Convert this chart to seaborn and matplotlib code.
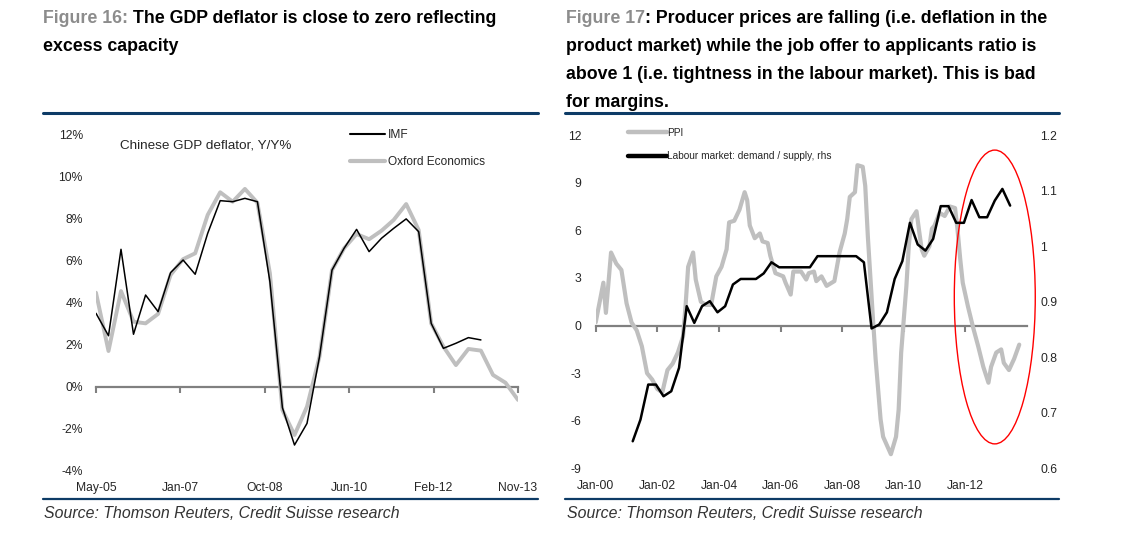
import matplotlib
matplotlib.use("Agg")
import matplotlib.pyplot as plt
import matplotlib.dates as mdates
from matplotlib.lines import Line2D
from matplotlib.patches import Ellipse
import numpy as np
import pandas as pd
import seaborn as sns

# ---- Figure 16: Chinese GDP deflator, Y/Y% (quarterly, May-05 .. Nov-13) ----
gdp_start = "2005-05-01"
imf = [3.50, 2.43, 6.55, 2.50, 4.37, 3.58, 5.44, 6.04, 5.36, 7.31, 8.87, 8.82,
       8.98, 8.82, 5.00, -1.00, -2.78, -1.75, 1.43, 5.56, 6.60, 7.50, 6.44, 7.08,
       7.55, 8.00, 7.39, 3.02, 1.83, 2.07, 2.34, 2.23]
oxford = [4.48, 1.70, 4.56, 3.10, 3.02, 3.47, 5.33, 6.08, 6.36, 8.19, 9.27, 8.82,
          9.43, 8.77, 5.41, -1.11, -2.30, -0.95, 1.43, 5.56, 6.60, 7.28, 7.03, 7.44,
          7.95, 8.71, 7.47, 3.02, 1.91, 1.03, 1.80, 1.72, 0.56, 0.19, -0.63]
gdp_xticklabels = ["May-05", "Jan-07", "Oct-08", "Jun-10", "Feb-12", "Nov-13"]
gdp_yticks = [-4, -2, 0, 2, 4, 6, 8, 10, 12]

# ---- Figure 17: PPI (lhs) and labour market demand/supply (rhs) ----
ppi_months = ["2000-01", "2000-04", "2000-05", "2000-07", "2000-09", "2000-11",
              "2001-01", "2001-03", "2001-05", "2001-07", "2001-09", "2001-11",
              "2002-01", "2002-03", "2002-05", "2002-07", "2002-09", "2002-11",
              "2002-12", "2003-01", "2003-03", "2003-04", "2003-06", "2003-08",
              "2003-10", "2003-12", "2004-02", "2004-04", "2004-05", "2004-07",
              "2004-09", "2004-11", "2004-12", "2005-01", "2005-03", "2005-05",
              "2005-06", "2005-08", "2005-09", "2005-11", "2006-02", "2006-03",
              "2006-05", "2006-06", "2006-09", "2006-11", "2006-12", "2007-02",
              "2007-03", "2007-05", "2007-07", "2007-10", "2007-12", "2008-02",
              "2008-03", "2008-04", "2008-06", "2008-07", "2008-09", "2008-10",
              "2008-11", "2009-01", "2009-02", "2009-04", "2009-05", "2009-08",
              "2009-10", "2009-11", "2009-12", "2010-02", "2010-03", "2010-04",
              "2010-06", "2010-07", "2010-08", "2010-09", "2010-11", "2010-12",
              "2011-01", "2011-03", "2011-05", "2011-07", "2011-09", "2011-10",
              "2011-11", "2011-12", "2012-02", "2012-04", "2012-06", "2012-08",
              "2012-10", "2012-11", "2013-01", "2013-03", "2013-04", "2013-06",
              "2013-08", "2013-10"]
ppi = [0.2, 2.7, 0.8, 4.6, 3.9, 3.5,
       1.4, 0.2, -0.3, -1.3, -3.0, -3.4,
       -4.0, -4.2, -2.8, -2.4, -1.7, -0.7,
       1.2, 3.7, 4.6, 2.9, 1.5, 1.3,
       1.3, 3.1, 3.7, 4.8, 6.5, 6.6,
       7.3, 8.4, 7.9, 6.3, 5.5, 5.8,
       5.3, 5.2, 4.4, 3.3, 3.1, 2.7,
       1.95, 3.4, 3.4, 2.9, 3.3, 3.4,
       2.8, 3.1, 2.5, 2.8, 4.6, 5.8,
       6.7, 8.1, 8.4, 10.1, 10.0, 8.8,
       5.6, 0.4, -2.1, -5.9, -7.0, -8.1,
       -7.0, -5.3, -1.7, 2.5, 5.0, 6.7,
       7.2, 6.0, 4.8, 4.4, 5.0, 6.1,
       6.3, 7.1, 6.9, 7.5, 7.4, 6.0,
       4.2, 2.7, 1.2, -0.1, -1.3, -2.6,
       -3.6, -2.6, -1.7, -1.5, -2.35, -2.8,
       -2.1, -1.2]
labour_start = "2001-03-01"
labour = [0.649, 0.688, 0.751, 0.751, 0.730, 0.739, 0.781, 0.892, 0.862, 0.892,
          0.901, 0.881, 0.892, 0.931, 0.941, 0.941, 0.941, 0.951, 0.971, 0.962,
          0.962, 0.962, 0.962, 0.962, 0.982, 0.982, 0.982, 0.982, 0.982, 0.982,
          0.971, 0.852, 0.859, 0.881, 0.941, 0.973, 1.042, 1.003, 0.992, 1.013,
          1.072, 1.072, 1.042, 1.042, 1.083, 1.052, 1.052, 1.082, 1.103, 1.073]
ppi_yticks = [-9, -6, -3, 0, 3, 6, 9, 12]
labour_yticks = [0.6, 0.7, 0.8, 0.9, 1.0, 1.1, 1.2]
labour_yticklabels = ["0.6", "0.7", "0.8", "0.9", "1", "1.1", "1.2"]
ppi_xticks = ["2000-01-01", "2002-01-01", "2004-01-01", "2006-01-01",
              "2008-01-01", "2010-01-01", "2012-01-01"]
ppi_xticklabels = ["Jan-00", "Jan-02", "Jan-04", "Jan-06", "Jan-08", "Jan-10", "Jan-12"]
# red ellipse highlighting the recent period
highlight_center = ("2012-12-15", 1.8)
highlight_size = (960, 18.5)   # days, PPI points

sns.set_style("white")
plt.rcParams["font.family"] = ["Liberation Sans", "DejaVu Sans"]

GREY = "#bfbfbf"
ZERO = "#808080"
NAVY = "#0d3b66"
TITLE_GREY = "#8c8c8c"
TICK_FS = 8.7

W, H = 1128, 533
fig = plt.figure(figsize=(W / 100, H / 100), dpi=100)


def fx(px):
    return px / W


def fy(py):
    return 1 - py / H


# ------------------------------------------------------------------ Figure 16
gdp = pd.DataFrame({"date": pd.date_range(gdp_start, periods=len(oxford), freq="3MS")})
gdp["Oxford Economics"] = oxford
gdp["IMF"] = imf + [np.nan] * (len(oxford) - len(imf))

ax1 = fig.add_axes([fx(96), fy(470.6), fx(518 - 96), (470.6 - 135) / H])
sns.lineplot(data=gdp, x="date", y="Oxford Economics", ax=ax1, color=GREY,
             linewidth=2.8, legend=False)
sns.lineplot(data=gdp.dropna(), x="date", y="IMF", ax=ax1, color="black",
             linewidth=1.1, legend=False)
ax1.set_ylim(-4, 12)
x0, x1 = mdates.date2num(gdp["date"].iloc[0]), mdates.date2num(gdp["date"].iloc[-1])
ax1.set_xlim(x0, x1)
gdp_xticks = np.linspace(x0, x1, len(gdp_xticklabels))
ax1.set_xticks(gdp_xticks)
ax1.set_xticklabels(gdp_xticklabels, fontsize=TICK_FS)
ax1.set_yticks(gdp_yticks)
ax1.set_yticklabels([f"{v}%" for v in gdp_yticks], fontsize=TICK_FS)
ax1.tick_params(axis="x", length=0, pad=8)
ax1.tick_params(axis="y", length=0, pad=9.5)
ax1.set_xlabel("")
ax1.set_ylabel("")
sns.despine(ax=ax1, left=True, bottom=True)

sec1 = ax1.secondary_xaxis((0 - (-4)) / 16)
sec1.set_xticks(gdp_xticks)
sec1.set_xticklabels([])
sec1.tick_params(direction="out", length=4, width=1.5, color=ZERO)
sec1.spines["bottom"].set_color(ZERO)
sec1.spines["bottom"].set_linewidth(1.6)

fig.text(fx(120), fy(145), "Chinese GDP deflator, Y/Y%", fontsize=9.7,
         va="center", ha="left")
ax1.legend(handles=[Line2D([], [], color="black", lw=1.5),
                    Line2D([], [], color=GREY, lw=3)],
           labels=["IMF", "Oxford Economics"], loc="upper left",
           bbox_to_anchor=(fx(350), fy(129.5)), bbox_transform=fig.transFigure,
           frameon=False, fontsize=8.6, handlelength=2.9, handletextpad=0.3,
           labelspacing=1.25, borderpad=0, borderaxespad=0)

# ------------------------------------------------------------------ Figure 17
ppi_df = pd.DataFrame({"date": pd.to_datetime(ppi_months), "PPI": ppi})
lab_df = pd.DataFrame({"date": pd.date_range(labour_start, periods=len(labour), freq="3MS")
                       + pd.Timedelta(days=14), "Labour": labour})

ax2 = fig.add_axes([fx(595.7), fy(468.5), fx(1027 - 595.7), (468.5 - 135) / H])
sns.lineplot(data=ppi_df, x="date", y="PPI", ax=ax2, color=GREY, linewidth=3,
             legend=False)
ax2.set_ylim(-9, 12)
ax2.set_xlim(pd.Timestamp("2000-01-01"), pd.Timestamp("2014-01-01"))
ax2.set_xticks(pd.to_datetime(ppi_xticks))
ax2.set_xticklabels(ppi_xticklabels, fontsize=TICK_FS)
ax2.set_yticks(ppi_yticks)
ax2.set_yticklabels([str(v) for v in ppi_yticks], fontsize=TICK_FS)
ax2.tick_params(axis="x", length=0, pad=8)
ax2.tick_params(axis="y", length=0, pad=10.5)
ax2.set_xlabel("")
ax2.set_ylabel("")
sns.despine(ax=ax2, left=True, bottom=True)

sec2 = ax2.secondary_xaxis((0 - (-9)) / 21)
sec2.set_xticks(mdates.date2num(pd.to_datetime(ppi_xticks)))
sec2.set_xticklabels([])
sec2.tick_params(direction="out", length=4, width=1.5, color=ZERO)
sec2.spines["bottom"].set_color(ZERO)
sec2.spines["bottom"].set_linewidth(1.6)

ax3 = ax2.twinx()
sns.lineplot(data=lab_df, x="date", y="Labour", ax=ax3, color="black",
             linewidth=1.8, legend=False)
ax3.set_ylim(0.6, 1.2)
ax3.set_yticks(labour_yticks)
ax3.set_yticklabels(labour_yticklabels, fontsize=TICK_FS)
ax3.tick_params(axis="y", length=0, pad=9.5)
ax3.set_ylabel("")
for s in ax3.spines.values():
    s.set_visible(False)

ell = Ellipse((mdates.date2num(pd.Timestamp(highlight_center[0])), highlight_center[1]),
              width=highlight_size[0], height=highlight_size[1],
              fill=False, edgecolor="red", linewidth=1, clip_on=False, zorder=5)
ax2.add_patch(ell)

ax3.legend(handles=[Line2D([], [], color=GREY, lw=3.2),
                    Line2D([], [], color="black", lw=3.2)],
           labels=["PPI", "Labour market: demand / supply, rhs"], loc="upper left",
           bbox_to_anchor=(fx(628), fy(128)), bbox_transform=fig.transFigure,
           frameon=False, fontsize=7.3, handlelength=3.8, handletextpad=0.05,
           labelspacing=1.3, borderpad=0, borderaxespad=0)

# ------------------------------------------------------------------ titles / rules
TITLE_FS = 12.8


def title_line(x, y, grey_part, black_part):
    if grey_part:
        t = fig.text(fx(x), fy(y), grey_part, color=TITLE_GREY, fontsize=TITLE_FS,
                     fontweight="bold", va="center", ha="left")
        ax1.annotate(black_part, xy=(1, 0), xycoords=t, va="bottom", ha="left",
                     fontsize=TITLE_FS, fontweight="bold", color="black",
                     annotation_clip=False)
    else:
        fig.text(fx(x), fy(y), black_part, color="black", fontsize=TITLE_FS,
                 fontweight="bold", va="center", ha="left")


title_line(43, 18.5, "Figure 16:", " The GDP deflator is close to zero reflecting")
title_line(43, 46.5, None, "excess capacity")
title_line(566, 18.5, "Figure 17", ": Producer prices are falling (i.e. deflation in the")
title_line(566, 46.5, None, "product market) while the job offer to applicants ratio is")
title_line(566, 74.5, None, "above 1 (i.e. tightness in the labour market). This is bad")
title_line(566, 102.5, None, "for margins.")

for (a, b) in [(43, 538), (565, 1059)]:
    fig.add_artist(Line2D([fx(a), fx(b)], [fy(113), fy(113)], color=NAVY, lw=2.2,
                          transform=fig.transFigure))
    fig.add_artist(Line2D([fx(a), fx(b)], [fy(499), fy(499)], color=NAVY, lw=1.6,
                          transform=fig.transFigure))

for x in (44, 567):
    fig.text(fx(x), fy(514), "Source: Thomson Reuters, Credit Suisse research",
             fontsize=11.4, style="italic", color="#333333", va="center", ha="left")

fig.savefig("out.png", dpi=100)
